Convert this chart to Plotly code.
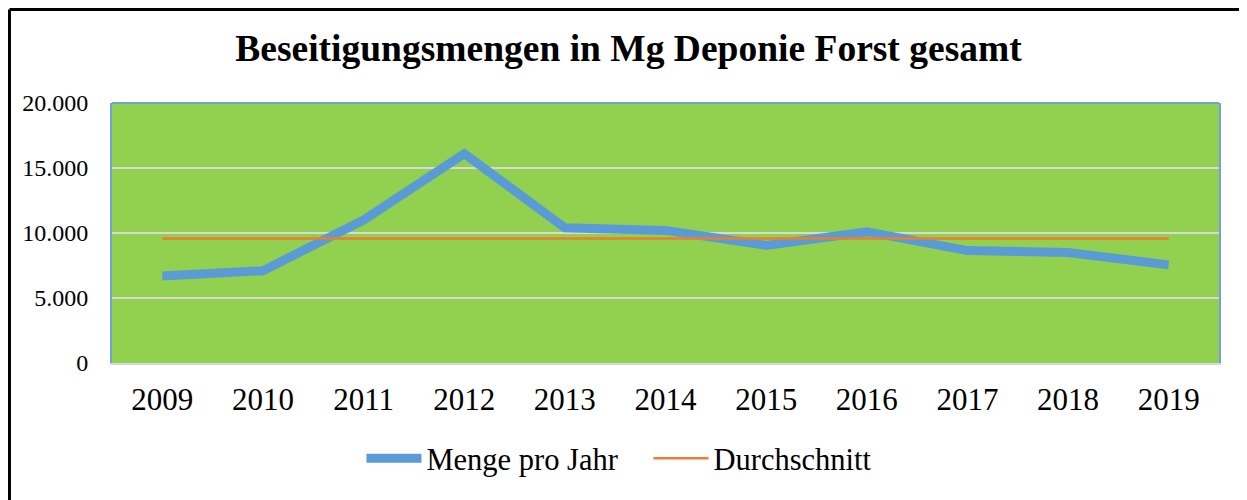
import plotly.graph_objects as go

years = ["2009", "2010", "2011", "2012", "2013", "2014", "2015", "2016", "2017", "2018", "2019"]
menge_pro_jahr = [6700, 7100, 11000, 16100, 10400, 10200, 9050, 10100, 8650, 8500, 7550]
durchschnitt = [9570, 9570, 9570, 9570, 9570, 9570, 9570, 9570, 9570, 9570, 9570]
y_ticks = [0, 5000, 10000, 15000, 20000]

FONT = "Liberation Serif, Times New Roman, serif"
GREEN = "#92D050"
BLUE = "#5B9BD5"
ORANGE = "#ED7D31"
GRID = "#D9D9D9"

fig = go.Figure()
fig.add_trace(go.Scatter(
    x=years, y=menge_pro_jahr, name="Menge pro Jahr", mode="lines",
    line=dict(color=BLUE, width=9),
))
fig.add_trace(go.Scatter(
    x=years, y=durchschnitt, name="Durchschnitt", mode="lines",
    line=dict(color=ORANGE, width=2.5),
))

fig.update_layout(
    width=1247, height=500,
    margin=dict(l=104, r=36, t=95, b=145, autoexpand=False),
    paper_bgcolor="white",
    plot_bgcolor=GREEN,
    separators=",.",
    font=dict(family=FONT, color="black"),
    title=dict(
        text="<b>Beseitigungsmengen in Mg Deponie Forst gesamt</b>",
        x=0.4976, xref="container", xanchor="center",
        y=0.92, yref="container", yanchor="middle",
        font=dict(family=FONT, size=37.5, color="black"),
    ),
    showlegend=True,
    legend=dict(
        orientation="h", x=0.5136, xref="container", xanchor="center",
        y=0.099, yref="container", yanchor="middle",
        font=dict(family=FONT, size=30.5, color="black"),
        itemwidth=55, entrywidth=217, bgcolor="rgba(0,0,0,0)",
    ),
    xaxis=dict(
        type="category", range=[-0.5, 10.5], automargin=False,
        showgrid=False,
        showline=True, linecolor=GRID, linewidth=2,
        ticks="outside", ticklen=8, tickcolor="rgba(0,0,0,0)",
        tickfont=dict(family=FONT, size=31, color="black"),
        zeroline=False,
    ),
    yaxis=dict(
        range=[0, 20000], tickvals=y_ticks, tickformat=",d", automargin=False,
        showgrid=True, gridcolor=GRID, gridwidth=2,
        showline=True, linecolor="#6FA3D8", linewidth=2, mirror=True,
        ticks="outside", ticklen=17, tickcolor="rgba(0,0,0,0)",
        tickfont=dict(family=FONT, size=24, color="black"),
        zeroline=False,
    ),
    shapes=[
        dict(type="line", xref="paper", yref="paper", x0=0, x1=1, y0=1, y1=1,
             line=dict(color="#6FA3D8", width=2)),
        dict(type="line", xref="paper", yref="paper",
             x0=-0.0926, x1=-0.0926, y0=1.3596, y1=-0.7,
             line=dict(color="black", width=3)),
        dict(type="line", xref="paper", yref="paper",
             x0=-0.0926, x1=1.1, y0=1.3596, y1=1.3596,
             line=dict(color="black", width=3)),
    ],
)

fig.write_html("out.html")
